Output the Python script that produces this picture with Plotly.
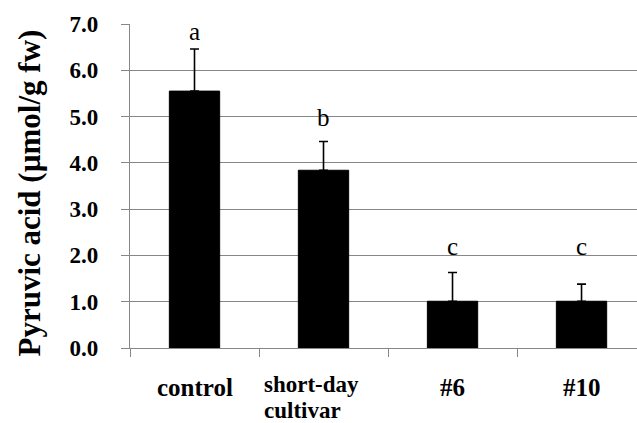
import plotly.graph_objects as go

# Pyruvic acid content per line (mean + SD), with significance letters
categories = ["control", "short-day cultivar", "#6", "#10"]
label_lines = [["control"], ["short-day", "cultivar"], ["#6"], ["#10"]]
means = [5.55, 3.84, 1.01, 1.01]
sd = [0.91, 0.62, 0.62, 0.37]
letters = ["a", "b", "c", "c"]
letter_y = [6.83, 4.97, 2.2, 2.2]
y_ticks = [0, 1, 2, 3, 4, 5, 6, 7]
y_ticktext = [f"<b>{v:.1f}</b>" for v in y_ticks]

SERIF = "Liberation Serif"
GRID = "#878787"

fig = go.Figure()
fig.add_trace(go.Bar(
    x=categories,
    y=means,
    marker=dict(color="black", line=dict(color="black", width=1)),
    error_y=dict(type="data", array=sd, arrayminus=[0] * len(sd), symmetric=False,
                 color="black", thickness=1.6, width=4.5),
    width=0.39,
))

annotations = []
# significance letters
for c, t, ly in zip(categories, letters, letter_y):
    annotations.append(dict(x=c, y=ly, xref="x", yref="y", text=t, showarrow=False,
                            font=dict(family=SERIF, size=25, color="black"),
                            yanchor="middle"))
# category labels; wrapped label is a left-aligned block with tight line spacing
for c, lines in zip(categories, label_lines):
    for i, line in enumerate(lines):
        ann = dict(x=c, y=0, xref="x", yref="paper", text=f"<b>{line}</b>",
                   showarrow=False, yanchor="top", yshift=-24,
                   font=dict(family=SERIF, size=25, color="black"))
        if len(lines) > 1:
            ann.update(xanchor="left", xshift=-61, yshift=-23 - 25.5 * i,
                       borderpad=0,
                       font=dict(family=SERIF, size=23, color="black"))
        annotations.append(ann)
# y-axis title
annotations.append(dict(x=-0.199, y=0.477, xref="paper", yref="paper",
                        text="<b>Pyruvic acid (µmol/g fw)</b>", textangle=-90,
                        showarrow=False, xanchor="center", yanchor="middle",
                        font=dict(family=SERIF, size=31, color="black")))

fig.update_layout(
    width=637, height=423,
    margin=dict(l=130, r=0, t=24, b=75),
    paper_bgcolor="white", plot_bgcolor="white",
    showlegend=False,
    annotations=annotations,
    xaxis=dict(type="category", range=[-0.5, 3.43], showticklabels=False,
               ticks="outside", tickson="boundaries", ticklen=8, tickcolor=GRID,
               tickwidth=1.3, showline=True, linecolor=GRID, linewidth=1.3,
               showgrid=False, zeroline=False),
    yaxis=dict(range=[0, 7], tickvals=y_ticks, ticktext=y_ticktext,
               ticks="outside", ticklen=8, tickcolor=GRID, tickwidth=1.3,
               showline=True, linecolor=GRID, linewidth=1.3,
               showgrid=True, gridcolor=GRID, gridwidth=1.3, zeroline=False,
               ticklabelstandoff=18,
               tickfont=dict(family=SERIF, size=23, color="black")),
)

fig.write_html("out.html")
